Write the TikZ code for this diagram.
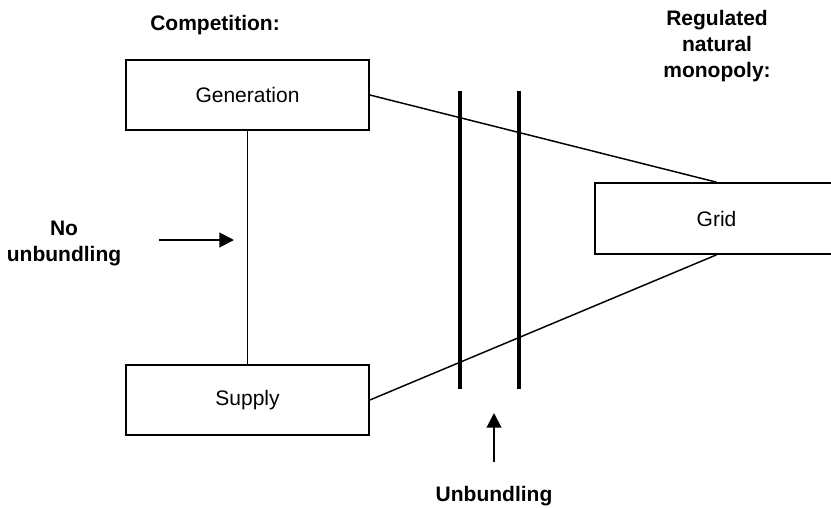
\documentclass[tikz,border=0pt]{standalone}
\usepackage{fontspec}
\setmainfont{Liberation Sans}
\usepackage{tikz}
\usetikzlibrary{arrows.meta,positioning}

\begin{document}
\begin{tikzpicture}[
    x=0.75pt, y=-0.75pt,
    box/.style={rectangle, draw, line width=1.5pt, minimum width=182pt, minimum height=53pt, font=\fontsize{15.75}{19.5}\selectfont},
    lbl/.style={inner sep=0pt, align=center, font=\fontsize{15.75}{19.5}\selectfont\bfseries},
    link/.style={line width=1.1pt},
    bar/.style={line width=3pt},
    arrow/.style={-{Triangle[length=11pt,width=11pt]}, line width=1.5pt},
]
    \path[use as bounding box, clip] (0,0) rectangle (831,508);

    % boxes
    \node[box] (gen) at (247.5,95) {Generation};
    \node[box] (sup) at (247.5,400) {Supply};
    \node[box] (grid) at (716.5,218.5) {Grid};

    % headings
    \node[lbl] (comp) at (215,25) {Competition:};
    \node[lbl] (mono) at (717,46) {Regulated\\natural\\monopoly:};
    \node[lbl] (nounb) at (64,243) {No\\unbundling};
    \node[lbl] (unb) at (494,496) {Unbundling};

    % links
    \draw[link] (gen.south) -- (sup.north);
    \draw[link] (gen.east) -- (grid.north);
    \draw[link] (sup.east) -- (grid.south);

    % unbundling bars
    \coordinate (b1t) at (460,91);
    \coordinate (b1b) at (460,389);
    \coordinate (b2t) at (519,91);
    \coordinate (b2b) at (519,389);
    \draw[bar] (b1t) -- (b1b);
    \draw[bar] (b2t) -- (b2b);

    % arrows
    \coordinate (a1s) at (159,240);
    \coordinate (a1e) at (234,240);
    \coordinate (a2s) at (494,462);
    \coordinate (a2e) at (494,413);
    \draw[arrow] (a1s) -- (a1e);
    \draw[arrow] (a2s) -- (a2e);
\end{tikzpicture}
\end{document}
